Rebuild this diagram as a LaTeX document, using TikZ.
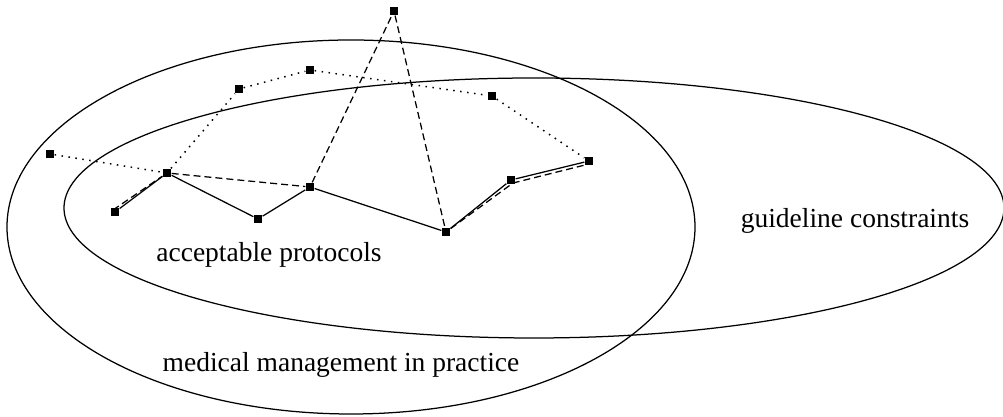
\documentclass[tikz,border=0pt]{standalone}
\usepackage{fontspec}
\setmainfont{Liberation Serif}
\usepackage{tikz}
\tikzstyle{sq}=[fill=black, rectangle, inner sep=0pt, minimum size=3.2pt]
\tikzstyle{lbl}=[font=\fontsize{11}{13}\selectfont, anchor=base, inner sep=0pt]
\tikzstyle{dashpath}=[dash pattern=on 2.8pt off 1.6pt]
\tikzstyle{dotpath}=[line width=0.6pt, dash pattern=on 0.6pt off 2.2pt]

\begin{document}
\begin{tikzpicture}[x=0.4pt, y=-0.4pt, line width=0.5pt]
    \useasboundingbox (0,0) rectangle (1003,417);

    % Conjuntos: practica medica y restricciones de la guia
    \draw (351,227) ellipse (344 and 187);
    \draw (534,208) ellipse (470 and 130);

    % Vertices
    \foreach \n/\x/\y in {P/50/154, A/167/173, B/115/212, C/258/219, D/310/187, E/446/232,
                          F/511/180, G/589/161, T/394/11, H/239/89, I/310/70, J/492/96}{
        \node[sq] (\n) at (\x,\y) {};
    }

    % Protocolo aceptable
    \draw (B) -- (A) -- (C) -- (D) -- (E) -- (F) -- (G);
    % Protocolos a trazos y punteados
    \draw[dashpath] ([shift={(-2,-2)}]B.center) -- (A) -- (D) -- (T) -- (E)
        -- ([shift={(2,3)}]F.center) -- ([shift={(0,3)}]G.center);
    \draw[dotpath] (P) -- (A) -- (H) -- (I) -- (J) -- (G);

    % Etiquetas
    \node[lbl] (acc) at (269,262) {acceptable protocols};
    \node[lbl] (med) at (341,372) {medical management in practice};
    \node[lbl] (gui) at (855,228) {guideline constraints};
\end{tikzpicture}
\end{document}
